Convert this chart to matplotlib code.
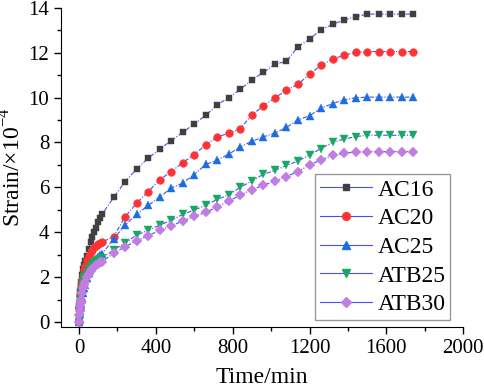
import numpy as np
import matplotlib
matplotlib.use("Agg")
import matplotlib.pyplot as plt
from matplotlib.lines import Line2D
from matplotlib.ticker import MultipleLocator

plt.rcParams['font.family'] = ['Liberation Serif', 'DejaVu Serif']
plt.rcParams['mathtext.fontset'] = 'custom'
plt.rcParams['mathtext.rm'] = 'Liberation Serif'

# time points (min): dense start, then every 60 min
t_early = [0, 2, 4, 6, 8, 10, 15, 20, 25, 30, 40, 50, 60, 70, 80, 90, 100, 110, 120]
t_late = list(range(180, 1741, 60))
time = t_early + t_late

ac16 = [0, 0.7, 1.1, 1.4, 1.6, 1.8, 2.1, 2.35, 2.55, 2.7, 2.95, 3.25, 3.55, 3.8, 4.0, 4.2, 4.45, 4.62, 4.8,
        5.55, 6.25, 6.82, 7.30, 7.70, 8.08, 8.45, 8.83, 9.21, 9.68, 10.0, 10.37, 10.79, 11.12, 11.49, 11.61,
        12.27, 12.60, 13.03, 13.26, 13.46, 13.60, 13.72, 13.72, 13.72, 13.72, 13.72]
ac20 = [0, 0.6, 0.95, 1.2, 1.4, 1.55, 1.85, 2.1, 2.3, 2.5, 2.75, 2.95, 3.1, 3.22, 3.32, 3.4, 3.47, 3.52, 3.56,
        3.80, 4.69, 5.29, 5.81, 6.33, 6.70, 7.10, 7.46, 7.90, 8.25, 8.41, 8.62, 9.24, 9.62, 10.0, 10.32,
        10.60, 11.03, 11.44, 11.71, 11.89, 12.02, 12.05, 12.05, 12.05, 12.05, 12.05]
ac25 = [0, 0.2, 0.35, 0.5, 0.65, 0.8, 1.05, 1.3, 1.5, 1.65, 1.95, 2.2, 2.4, 2.55, 2.68, 2.8, 2.9, 2.97, 3.03,
        3.69, 4.32, 4.80, 5.19, 5.57, 5.97, 6.19, 6.57, 7.02, 7.22, 7.48, 7.81, 8.05, 8.25, 8.42, 8.67,
        9.01, 9.19, 9.53, 9.73, 9.90, 9.99, 10.02, 10.02, 10.02, 10.02, 10.02]
atb25 = [0, 0.5, 0.8, 1.0, 1.2, 1.35, 1.6, 1.8, 1.95, 2.05, 2.2, 2.35, 2.45, 2.55, 2.63, 2.7, 2.76, 2.81, 2.85,
         3.21, 3.51, 3.88, 4.08, 4.32, 4.53, 4.79, 4.99, 5.20, 5.47, 5.66, 6.00, 6.29, 6.58, 6.75, 6.98,
         7.17, 7.44, 7.73, 8.00, 8.15, 8.26, 8.32, 8.32, 8.32, 8.32, 8.32]
atb30 = [0, 0.3, 0.5, 0.7, 0.85, 1.0, 1.3, 1.5, 1.65, 1.8, 2.0, 2.15, 2.28, 2.38, 2.47, 2.54, 2.6, 2.65, 2.69,
         3.06, 3.36, 3.61, 3.85, 4.08, 4.28, 4.50, 4.70, 4.88, 5.14, 5.37, 5.67, 5.88, 6.10, 6.27, 6.48,
         6.70, 7.00, 7.22, 7.42, 7.52, 7.57, 7.59, 7.59, 7.59, 7.59, 7.59]

names = ["AC16", "AC20", "AC25", "ATB25", "ATB30"]
series = [ac16, ac20, ac25, atb25, atb30]
markers = ["s", "o", "^", "v", "D"]
colors = ["#404040", "#ff3333", "#1a6ee0", "#17a864", "#c27de3"]
msizes = [5.0, 5.6, 6.0, 6.0, 5.0]
line_color = "#4a4aff"

fig = plt.figure(figsize=(4.84, 3.91), dpi=100)
ax = fig.add_axes([0.126, 0.164, 0.831, 0.816])

for y, m, c, ms in zip(series, markers, colors, msizes):
    ax.plot(time, y, color=line_color, lw=0.8, linestyle=(0, (4, 1.5, 1, 1.5)),
            marker=m, markersize=ms, markerfacecolor=c, markeredgecolor=c, markeredgewidth=0.3)

handles = [Line2D([], [], color=line_color, lw=0.8, marker=m, markersize=ms,
                  markerfacecolor=c, markeredgecolor=c)
           for m, c, ms in zip(markers, colors, msizes)]
leg = ax.legend(handles, names, loc="lower right", bbox_to_anchor=(0.968, 0.022),
                borderaxespad=0, fontsize=17, fancybox=False, framealpha=1,
                edgecolor="#999999", handlelength=2.2, handletextpad=0.25,
                labelspacing=0.3, borderpad=0.2)
leg.get_frame().set_linewidth(1.0)

ax.set_xlim(-94, 2000)
ax.set_ylim(-0.22, 14)
ax.xaxis.set_major_locator(MultipleLocator(400))
ax.xaxis.set_minor_locator(MultipleLocator(200))
ax.yaxis.set_major_locator(MultipleLocator(2))
ax.yaxis.set_minor_locator(MultipleLocator(1))
ax.spines["top"].set_visible(False)
ax.spines["right"].set_visible(False)
ax.tick_params(which="major", direction="out", length=5, width=1, labelsize=15)
ax.tick_params(which="minor", direction="out", length=3, width=1)

ax.set_xlabel("Time/min", fontsize=17, labelpad=7)
ax.set_ylabel("Strain/×10$^{-4}$", fontsize=17, labelpad=2)

fig.savefig("out.png", dpi=100)
